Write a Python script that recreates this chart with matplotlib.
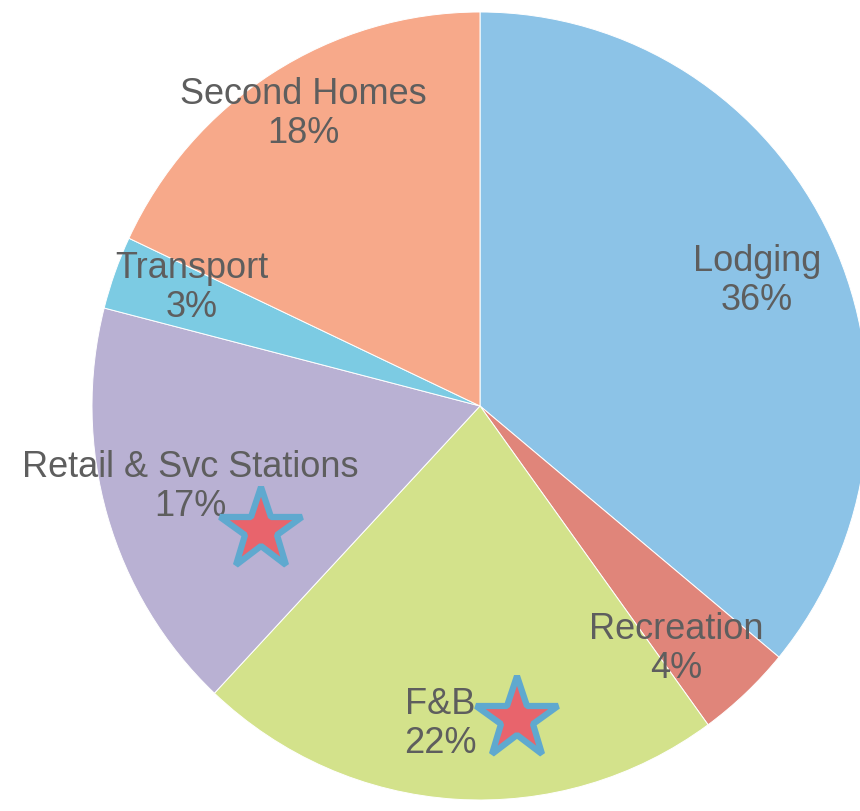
import matplotlib
matplotlib.use("Agg")
import matplotlib.pyplot as plt

categories = ["Lodging", "Recreation", "F&B", "Retail & Svc Stations", "Transport", "Second Homes"]
shares = [36, 4, 22, 17, 3, 18]
colors = ["#8cc3e7", "#e0857a", "#d3e28b", "#b9b1d3", "#7ccbe3", "#f7a98a"]

# label anchor positions (pixel coords, y from top) - layout only
label_pos = {
    "Lodging": (757, 281),
    "Recreation": (676, 649),
    "F&B": (440, 724),
    "Retail & Svc Stations": (190, 487),
    "Transport": (192, 288),
    "Second Homes": (303, 114),
}
starred = ["Retail & Svc Stations", "F&B"]
star_pos = {"Retail & Svc Stations": (261, 530), "F&B": (517, 719)}

W, H = 860, 811
cx, cy = 480, 406
ry, rx = 394, 388
k = ry / rx

fig = plt.figure(figsize=(W / 100, H / 100), dpi=100)
ax = fig.add_axes([0, 0, 1, 1])

ax.pie(shares, colors=colors, startangle=90, counterclock=False,
       radius=ry, center=(0, 0), frame=False,
       wedgeprops=dict(edgecolor="white", linewidth=0.7))
ax.set_xlim(-cx * k, (W - cx) * k)
ax.set_ylim(-(H - cy), cy)
ax.set_aspect("auto")
ax.axis("off")

def to_data(px, py):
    return ((px - cx) * k, cy - py)

for cat, val in zip(categories, shares):
    x, y = to_data(*label_pos[cat])
    ax.text(x, y, f"{cat}\n{val}%", ha="center", va="center",
            fontsize=26, color="#5e5e5e", family="Liberation Sans",
            linespacing=1.12)

for cat in starred:
    x, y = to_data(*star_pos[cat])
    ax.plot([x], [y], marker="*", markersize=62, markerfacecolor="#e8646c",
            markeredgecolor="#5fa9cf", markeredgewidth=4.5, zorder=5)

fig.savefig("out.png", dpi=100, facecolor="white")
